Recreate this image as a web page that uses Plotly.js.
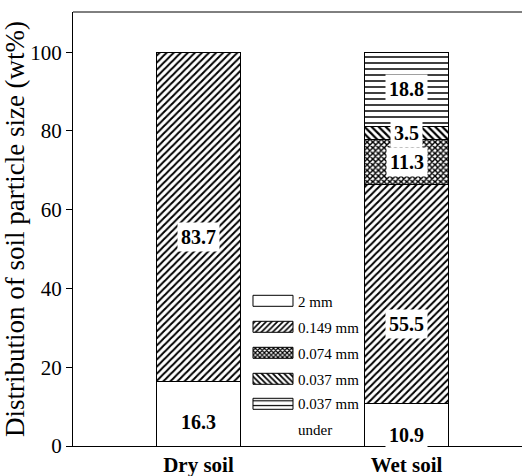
<!DOCTYPE html>
<html>
<head>
<meta charset="utf-8">
<script src="https://cdn.plot.ly/plotly-3.0.1.min.js"></script>
<style>html,body{margin:0;padding:0;background:#fff;}#chart{width:526px;height:476px;}</style>
</head>
<body>
<div id="chart"></div>
<script>
const categories = ["Dry soil", "Wet soil"];
const seriesNames = ["2 mm", "0.149 mm", "0.074 mm", "0.037 mm", "0.037 mm<br>under"];
const size2mm = [16.3, 10.9];
const size0149 = [83.7, 55.5];
const size0074 = [null, 11.3];
const size0037 = [null, 3.5];
const size0037under = [null, 18.8];
const yTicks = [0, 20, 40, 60, 80, 100];

const SERIF = "Liberation Serif, Times New Roman, serif";
const series = [size2mm, size0149, size0074, size0037, size0037under];
const patterns = [
  {shape: "", bgcolor: "white"},
  {shape: "/", fgcolor: "black", bgcolor: "white", size: 5, solidity: 0.4},
  {shape: "x", fgcolor: "black", bgcolor: "white", size: 4, solidity: 0.6},
  {shape: "\\", fgcolor: "black", bgcolor: "white", size: 5, solidity: 0.45},
  {shape: "-", fgcolor: "black", bgcolor: "white", size: 6, solidity: 0.25}
];
const labelShift = [[-8, -10], [-20, -30], [0, 0], [0, 0], [0, 0]];
const LEGEND_STEP = 26;

const traces = series.map((vals, i) => ({
  type: "bar",
  name: seriesNames[i],
  x: categories,
  y: vals,
  width: 0.4,
  marker: {color: "white", line: {color: "black", width: 1}, pattern: patterns[i]},
  hoverinfo: "skip"
}));

const annotations = [];
categories.forEach((c, ci) => {
  let base = 0;
  series.forEach((vals, si) => {
    const v = vals[ci];
    if (v == null) return;
    annotations.push({
      x: c, y: base + v / 2, xref: "x", yref: "y",
      text: "<b>" + v.toFixed(1) + "</b>",
      showarrow: false, bgcolor: "white", borderpad: 3,
      yshift: labelShift[si][ci],
      font: {family: SERIF, size: 20, color: "black"}
    });
    base += v;
  });
});

const layout = {
  width: 526, height: 476,
  margin: {l: 73, r: 4, t: 12, b: 30},
  paper_bgcolor: "white", plot_bgcolor: "white",
  barmode: "stack",
  showlegend: true,
  font: {family: SERIF, color: "black"},
  legend: {
    x: 0.412, y: 0.372, xanchor: "left", yanchor: "top",
    traceorder: "normal",
    font: {family: SERIF, size: 15, color: "black"},
    bgcolor: "rgba(255,255,255,0)", borderwidth: 0,
    itemwidth: 30
  },
  xaxis: {
    range: [-0.603, 1.555],
    showline: true, linecolor: "black", linewidth: 1,
    mirror: false, ticks: "", showgrid: false, zeroline: false,
    tickfont: {family: SERIF, size: 21, color: "black", weight: "bold"},
    fixedrange: true
  },
  yaxis: {
    range: [0, 110.2],
    tickvals: yTicks, ticktext: yTicks.map(String),
    showline: true, linecolor: "black", linewidth: 1,
    ticks: "outside", ticklen: 6, tickcolor: "black",
    showgrid: false, zeroline: false,
    tickfont: {family: SERIF, size: 21, color: "black"},
    title: {text: "Distribution of soil particle size (wt%)", font: {family: SERIF, size: 27, color: "black"}, standoff: 3},
    fixedrange: true
  },
  shapes: [
    {type: "line", xref: "paper", yref: "paper", x0: 0, x1: 1, y0: 1, y1: 1, line: {color: "black", width: 1}}
  ],
  annotations: annotations
};

Plotly.newPlot("chart", traces, layout, {displayModeBar: false, staticPlot: true}).then(gd => {
  // let legend content extend beyond its computed box
  gd.querySelectorAll(".legend [clip-path]").forEach(el => el.removeAttribute("clip-path"));
  // widen legend swatches like the reference's wide rectangles
  const paths = gd.querySelectorAll(".legend .legendpoints path");
  paths.forEach((p, i) => {
    const dy = (i === paths.length - 1) ? -9 : 0;
    p.setAttribute("d", "M-25," + (-5.5 + dy) + "h40v11h-40z");
    p.style.strokeWidth = "1px";
    p.style.stroke = "black";
  });
  // even vertical spacing between legend entries
  const items = Array.from(gd.querySelectorAll(".legend g.traces"));
  let y0 = null;
  items.forEach((g, i) => {
    const m = /translate\(\s*([-\d.]+)[ ,]+([-\d.]+)\s*\)/.exec(g.getAttribute("transform") || "");
    if (!m) return;
    const x = parseFloat(m[1]);
    const y = parseFloat(m[2]);
    if (y0 === null) y0 = y;
    const last = (i === items.length - 1);
    g.setAttribute("transform", "translate(" + x + "," + (y0 + i * LEGEND_STEP + (last ? 8 : 0)) + ")");
    if (last) {
      const lines = g.querySelectorAll(".legendtext tspan.line");
      if (lines.length > 1) lines[1].setAttribute("dy", LEGEND_STEP + "px");
    }
  });
});
</script>
</body>
</html>
